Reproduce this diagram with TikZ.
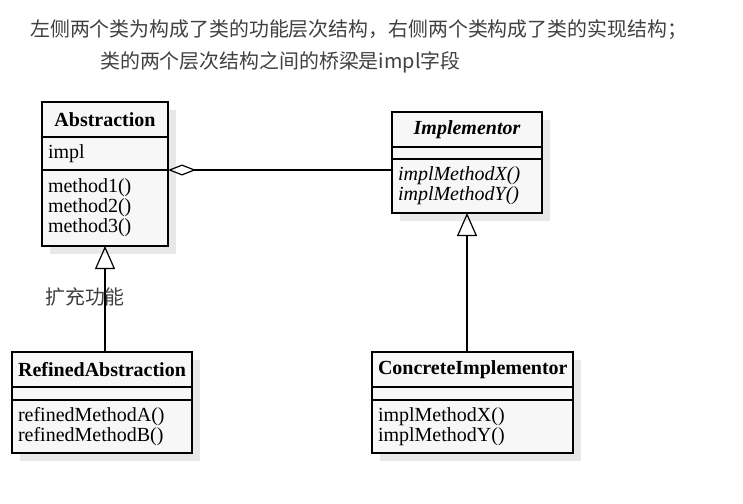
\documentclass[tikz,border=0pt]{standalone}
\usepackage{fontspec}
\setmainfont{Liberation Serif}
\newfontfamily\cjk{Noto Sans CJK SC}
\usetikzlibrary{positioning,shadows,arrows.meta}

\definecolor{boxfill}{HTML}{F7F7F7}
\definecolor{boxshade}{HTML}{E8E8E8}

\begin{document}
\begin{tikzpicture}[x=1pt, y=-1pt,
				line join=miter,
				umlpart/.style={draw, fill=boxfill, line width=1.2pt,
					inner xsep=6pt, inner ysep=0pt, outer sep=0pt,
					text width=#1, align=left,
					font=\fontsize{20pt}{20pt}\selectfont,
					drop shadow={shadow xshift=8pt, shadow yshift=-8pt,
						fill=boxshade, opacity=1}},
				umlhead/.style={umlpart=#1, align=center, minimum height=35pt,
					font=\fontsize{20pt}{20pt}\selectfont\bfseries},
				note/.style={inner sep=0pt, text=black!75,
					font=\cjk\fontsize{19.9pt}{22pt}\selectfont},
				aggr/.style={line width=1.2pt, {Diamond[open, length=28pt, width=11pt]}-},
				inherit/.style={line width=1.2pt, -{Triangle[open, length=23pt, width=20pt]}}
				]
				\useasboundingbox (0,0) rectangle (743,503);

				% notes on top
				\node[note, anchor=west] (note1) at (30,30)
					{左侧两个类为构成了类的功能层次结构，右侧两个类构成了类的实现结构；};
				\node[note, anchor=west] (note2) at (100,62)
					{类的两个层次结构之间的桥梁是impl字段};

				% functional hierarchy
				\node[umlhead=114pt] (abs-h) at (105,119.5) {Abstraction};
				\node[umlpart=114pt, minimum height=33pt, below=0pt of abs-h] (abs-a) {impl};
				\node[umlpart=114pt, minimum height=76pt, below=0pt of abs-a] (abs-m)
					{method1()\\method2()\\method3()};

				\node[umlhead=168pt] (ref-h) at (102,369.5) {RefinedAbstraction};
				\node[umlpart=168pt, minimum height=13pt, below=0pt of ref-h] (ref-a) {};
				\node[umlpart=168pt, minimum height=53pt, below=0pt of ref-a] (ref-m)
					{refinedMethodA()\\refinedMethodB()};

				% implementation hierarchy
				\node[umlhead=138pt, font=\fontsize{20pt}{20pt}\selectfont\bfseries\itshape]
					(impl-h) at (467,129.5) {Implementor};
				\node[umlpart=138pt, minimum height=12pt, below=0pt of impl-h] (impl-a) {};
				\node[umlpart=138pt, minimum height=54pt, below=0pt of impl-a,
					font=\fontsize{20pt}{20pt}\selectfont\itshape] (impl-m)
					{implMethodX()\\implMethodY()};

				\node[umlhead=189pt] (conc-h) at (472.5,369.5) {ConcreteImplementor};
				\node[umlpart=189pt, minimum height=13pt, below=0pt of conc-h] (conc-a) {};
				\node[umlpart=189pt, minimum height=53pt, below=0pt of conc-a] (conc-m)
					{implMethodX()\\implMethodY()};

				% heavier line above the methods
				\foreach \c in {abs,ref,impl,conc}
					\draw[line width=1.8pt] (\c-m.north west) -- (\c-m.north east);

				% relations
				\draw[aggr] (abs-a.south east) -- (abs-a.south east -| impl-m.west);
				\draw[inherit] (ref-h.north -| abs-m.south) -- (abs-m.south);
				\draw[inherit] (conc-h.north -| impl-m.south) -- (impl-m.south);

				\node[note, anchor=west] (extend) at (45,297) {扩充功能};
\end{tikzpicture}
\end{document}
